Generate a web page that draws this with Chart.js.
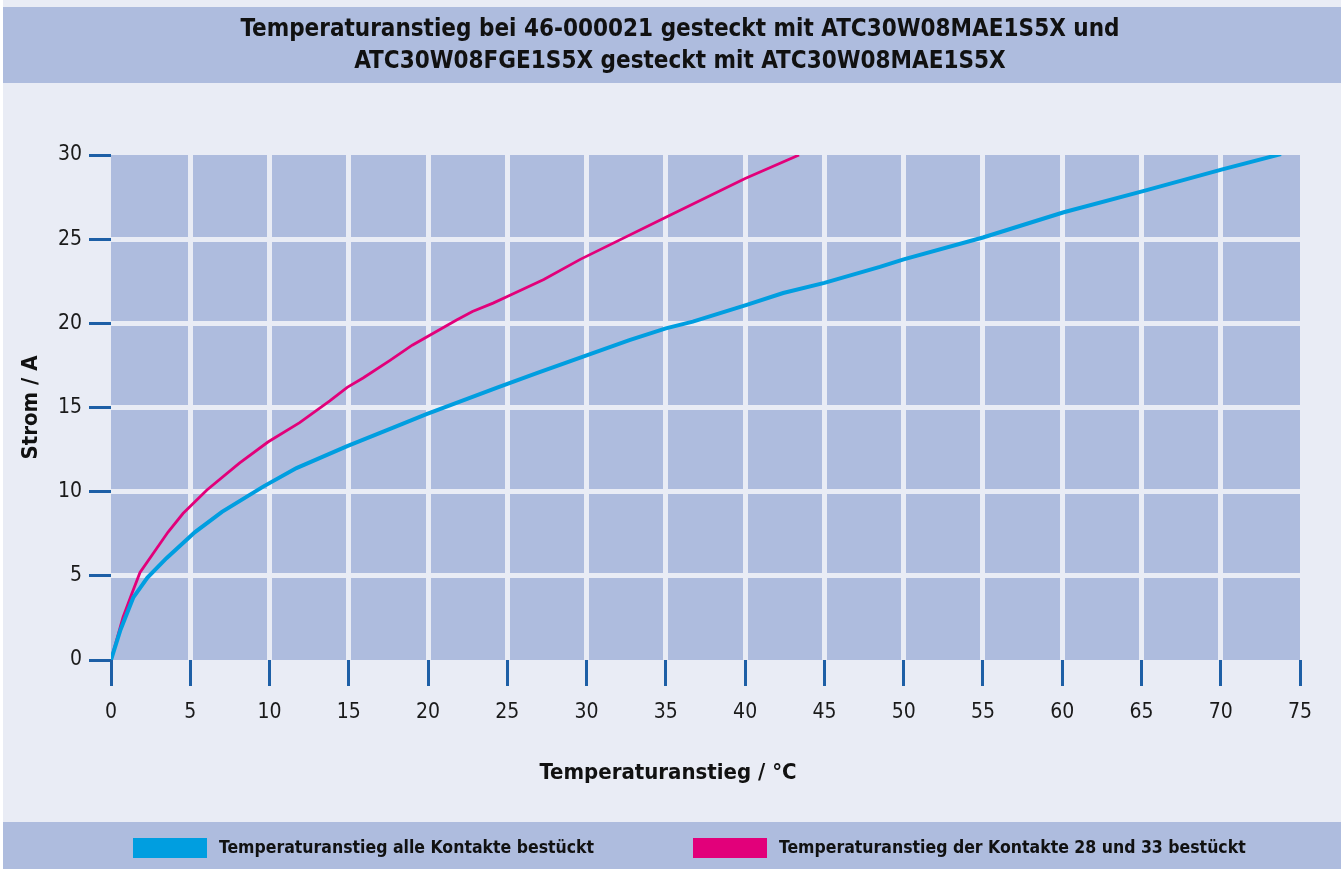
<!DOCTYPE html>
<html>
<head>
<meta charset="utf-8">
<script src="https://cdn.jsdelivr.net/npm/chart.js@4"></script>
<style>
  html, body { margin: 0; padding: 0; background: #ffffff; }
  #wrap { width: 1341px; height: 869px; }
</style>
</head>
<body>
<div id="wrap"><canvas id="myChart" width="1341" height="869"></canvas></div>
<script>
const titleLines = ['Temperaturanstieg bei 46-000021 gesteckt mit ATC30W08MAE1S5X und', 'ATC30W08FGE1S5X gesteckt mit ATC30W08MAE1S5X'];
const xTitle = 'Temperaturanstieg / °C';
const yTitle = 'Strom / A';
const seriesNames = ['Temperaturanstieg alle Kontakte bestückt', 'Temperaturanstieg der Kontakte 28 und 33 bestückt'];

// alle Kontakte bestückt (blau)
const allTemp = [0, 0.6, 1.4, 2.3, 3.5, 5.3, 7.0, 9.6, 11.7, 14.9, 17.8, 19.9, 24.4, 26.9, 30.0, 32.7, 35.0, 36.7, 40.1, 42.4, 45.0, 48.5, 50.0, 55.0, 60.1, 65.1, 70.1, 73.8];
const allCurrent = [0, 1.8, 3.7, 4.9, 6.05, 7.6, 8.8, 10.3, 11.4, 12.7, 13.8, 14.6, 16.2, 17.05, 18.1, 19.0, 19.7, 20.1, 21.1, 21.8, 22.4, 23.35, 23.8, 25.1, 26.6, 27.85, 29.15, 30.05];

// Kontakte 28 und 33 bestückt (magenta)
const pairTemp = [0, 0.76, 1.3, 1.83, 3.6, 4.54, 6.05, 8.1, 9.9, 11.9, 13.8, 14.9, 15.9, 17.6, 19.0, 21.8, 22.8, 24.1, 25.0, 27.3, 29.6, 35.0, 40.0, 43.4];
const pairCurrent = [0, 2.55, 3.9, 5.2, 7.6, 8.7, 10.1, 11.7, 12.95, 14.1, 15.4, 16.2, 16.75, 17.8, 18.7, 20.2, 20.7, 21.2, 21.6, 22.6, 23.8, 26.3, 28.6, 30.0];

const xTicks = [0, 5, 10, 15, 20, 25, 30, 35, 40, 45, 50, 55, 60, 65, 70, 75];
const yTicks = [0, 5, 10, 15, 20, 25, 30];

const FONT = "'Liberation Sans Narrow', 'DejaVu Sans Condensed', 'Roboto Condensed', sans-serif";
const pageBg = '#e9ecf5';
const bandBg = '#aebcde';
const tickBlue = '#1d5fa6';
const colors = ['#009ee0', '#e2007a'];

const toPoints = (xs, ys) => xs.map((x, i) => ({x: x, y: ys[i]}));

// Hintergrund, Kopf- und Legendenband, Plotfläche, Texte
const backdrop = {
  id: 'backdrop',
  beforeDraw(chart) {
    const c = chart.ctx, a = chart.chartArea;
    c.save();
    c.fillStyle = pageBg;
    c.fillRect(3, 0, chart.width - 3, chart.height);
    c.fillStyle = bandBg;
    c.fillRect(3, 7, chart.width - 3, 76);
    c.fillRect(3, 822, chart.width - 3, 47);
    c.fillRect(a.left, a.top, a.right - a.left, a.bottom - a.top);
    c.restore();
  },
  afterDraw(chart) {
    const c = chart.ctx;
    c.save();
    c.fillStyle = '#111';
    c.textBaseline = 'middle';
    c.textAlign = 'center';
    // Titel
    c.font = 'bold 24px ' + FONT;
    titleLines.forEach((t, i) => c.fillText(t, 680, 30 + i * 32));
    // x-Achsentitel
    c.font = 'bold 22px ' + FONT;
    c.fillText(xTitle, 668, 773);
    // Legende
    c.font = 'bold 17.5px ' + FONT;
    c.textAlign = 'left';
    const legendX = [133, 693];
    chart.data.datasets.forEach((ds, i) => {
      c.fillStyle = ds.borderColor;
      c.fillRect(legendX[i], 838, 74, 20);
      c.fillStyle = '#111';
      c.fillText(ds.label, legendX[i] + 86, 848);
    });
    c.restore();
  }
};

new Chart(document.getElementById('myChart').getContext('2d'), {
  type: 'line',
  data: {
    datasets: [{
      label: seriesNames[0],
      data: toPoints(allTemp, allCurrent),
      borderColor: colors[0],
      backgroundColor: colors[0],
      borderWidth: 4,
      pointRadius: 0,
      tension: 0
    }, {
      label: seriesNames[1],
      data: toPoints(pairTemp, pairCurrent),
      borderColor: colors[1],
      backgroundColor: colors[1],
      borderWidth: 2.8,
      pointRadius: 0,
      tension: 0
    }]
  },
  options: {
    responsive: false,
    animation: false,
    devicePixelRatio: 1,
    layout: { padding: { left: 0, right: 41, top: 155, bottom: 47 } },
    plugins: {
      legend: { display: false },
      tooltip: { enabled: false },
      title: { display: false }
    },
    scales: {
      x: {
        type: 'linear',
        min: 0, max: 75,
        afterBuildTicks: s => { s.ticks = xTicks.map(v => ({value: v})); },
        afterFit: s => { s.height = 162; },
        border: { display: false },
        grid: {
          color: ctx => (ctx.tick && (ctx.tick.value === 0 || ctx.tick.value === 75)) ? 'rgba(0,0,0,0)' : pageBg,
          lineWidth: 5,
          tickColor: tickBlue,
          tickWidth: 3,
          tickLength: 26
        },
        ticks: {
          color: '#1a1a1a',
          padding: 14,
          maxRotation: 0,
          font: { family: FONT, size: 21 }
        }
      },
      y: {
        min: 0, max: 30,
        afterBuildTicks: s => { s.ticks = yTicks.map(v => ({value: v})); },
        afterFit: s => { s.width = 111; },
        border: { display: false },
        grid: {
          color: ctx => (ctx.tick && (ctx.tick.value === 0 || ctx.tick.value === 30)) ? 'rgba(0,0,0,0)' : pageBg,
          lineWidth: 5,
          tickColor: tickBlue,
          tickWidth: 3,
          tickLength: 22
        },
        ticks: {
          color: '#1a1a1a',
          padding: 7,
          font: { family: FONT, size: 21 }
        },
        title: {
          display: true,
          text: yTitle,
          color: '#111',
          font: { family: FONT, size: 22, weight: 'bold' },
          padding: { top: 18, bottom: 0 }
        }
      }
    }
  },
  plugins: [backdrop]
});
</script>
</body>
</html>
